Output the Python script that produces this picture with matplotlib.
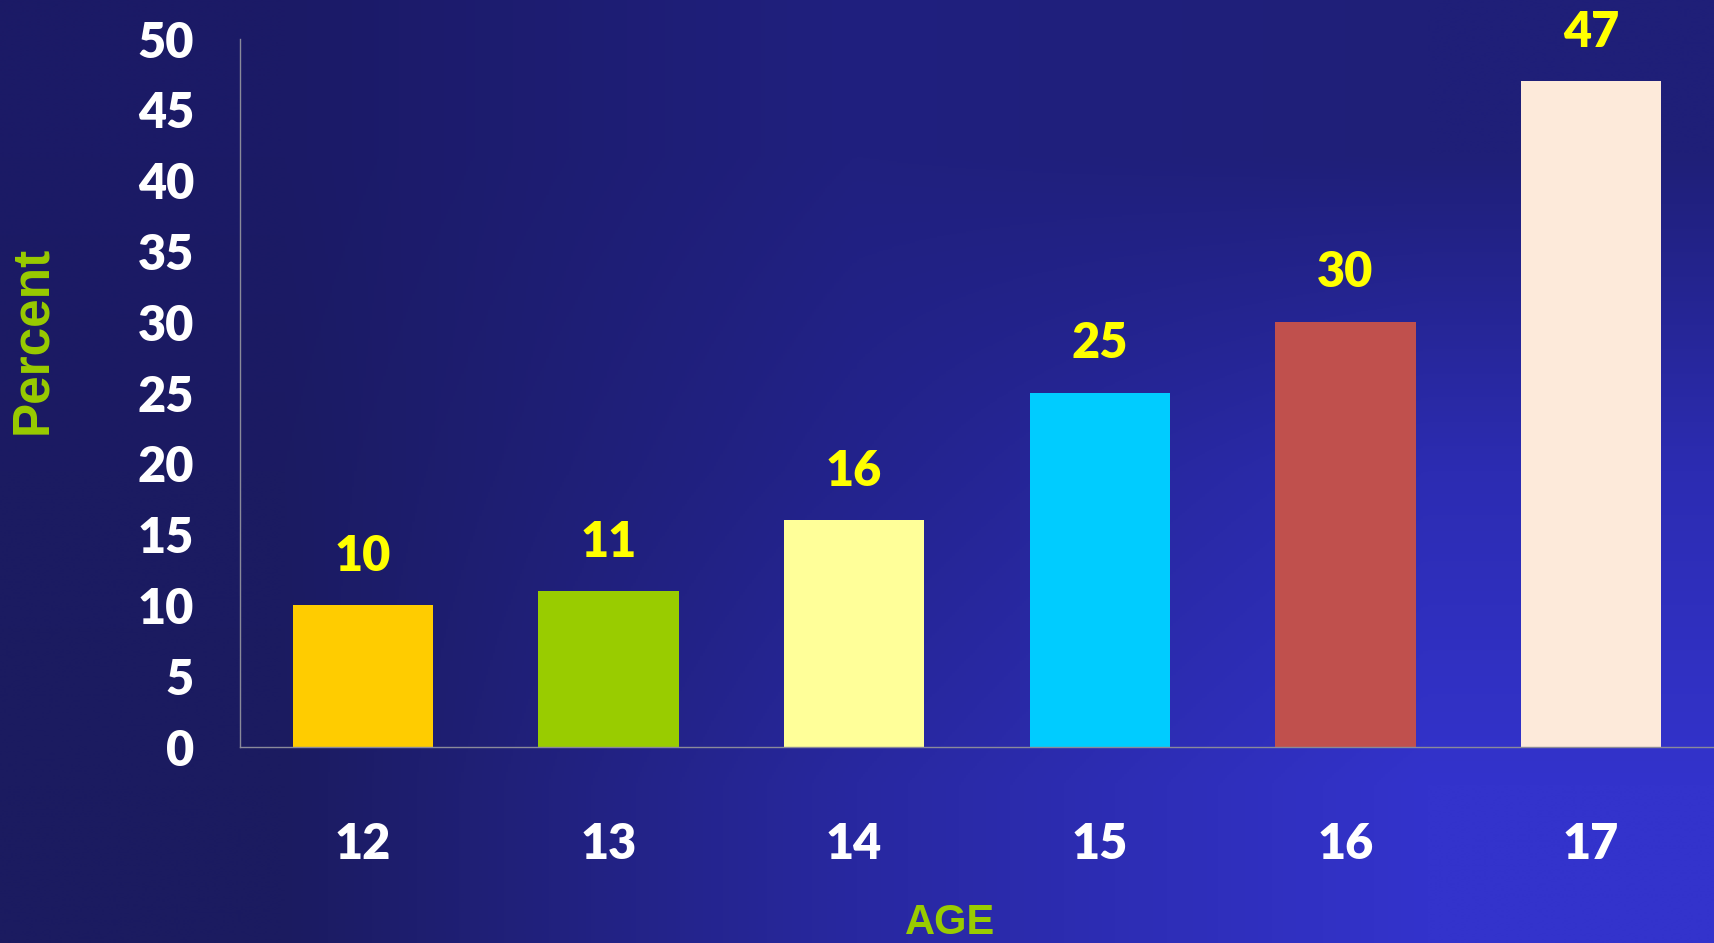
import numpy as np
import matplotlib
matplotlib.use("Agg")
import matplotlib.pyplot as plt

ages = ["12", "13", "14", "15", "16", "17"]
percent = [10, 11, 16, 25, 30, 47]
bar_colors = ["#FFCC00", "#99CC00", "#FFFF99", "#00CCFF", "#C0504D", "#FDEADA"]
yticks = [0, 5, 10, 15, 20, 25, 30, 35, 40, 45, 50]

W, H, dpi = 1714, 943, 100
fig = plt.figure(figsize=(W / dpi, H / dpi), dpi=dpi)

# background gradient (dark navy top-left -> bright blue bottom-right)
grad = np.array([
    [[27, 26, 102], [32, 32, 127], [31, 31, 120]],
    [[27, 27, 98], [35, 35, 140], [44, 44, 178]],
    [[27, 27, 96], [40, 40, 160], [51, 51, 204]],
]) / 255.0
bg = fig.add_axes([0, 0, 1, 1])
bg.imshow(grad, aspect="auto", interpolation="bilinear", extent=[0, 1, 0, 1])
bg.set_axis_off()

ax = fig.add_axes([240 / W, (H - 747) / H, (W - 240) / W, 708 / H])
ax.patch.set_alpha(0)
x = np.arange(len(ages))
bars = ax.bar(x, percent, width=0.57, color=bar_colors, zorder=2)

ax.set_xlim(-0.5, len(ages) - 0.5)
ax.set_ylim(0, 50)
ax.set_yticks(yticks)
ax.set_xticks(x)
ax.set_xticklabels(ages)

for s in ["top", "right"]:
    ax.spines[s].set_visible(False)
for s in ["left", "bottom"]:
    ax.spines[s].set_color("#8a8a9a")
    ax.spines[s].set_linewidth(1)

NUM_W = "heavy"
ax.tick_params(axis="both", length=0)
ax.tick_params(axis="y", pad=33)
ax.tick_params(axis="x", pad=54)
for lab in ax.get_yticklabels() + ax.get_xticklabels():
    lab.set_fontfamily("Lato")
    lab.set_fontweight(NUM_W)
    lab.set_fontsize(35)
    lab.set_color("white")

for xi, v in zip(x, percent):
    ax.annotate(str(v), (xi, v), xytext=(0, 25), textcoords="offset points",
                ha="center", va="baseline", color="#FFFF00",
                fontfamily="Lato", fontweight=NUM_W, fontsize=35,
                annotation_clip=False)

fig.text(33 / W, 1 - 340 / H, "Percent", rotation=90, ha="center", va="center",
         color="#99CC00", fontfamily="Liberation Sans", fontweight="bold", fontsize=37)
fig.text(950 / W, 1 - 923 / H, "AGE", ha="center", va="center",
         color="#99CC00", fontfamily="Liberation Sans", fontweight="bold", fontsize=30)

fig.savefig("out.png", dpi=dpi)
